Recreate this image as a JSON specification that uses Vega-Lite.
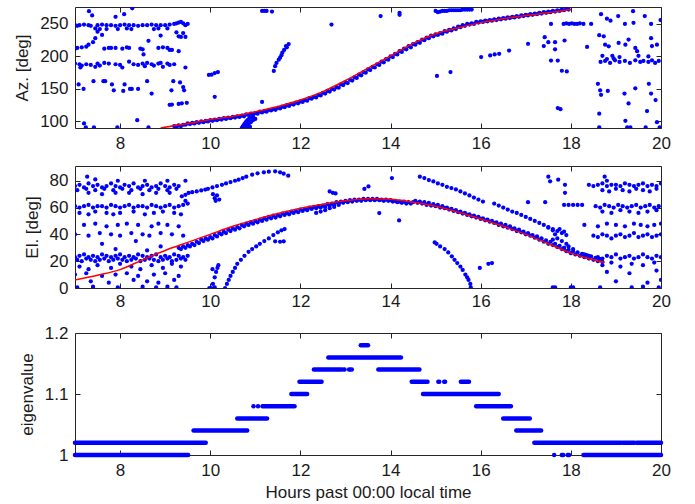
{
"$schema": "https://vega.github.io/schema/vega-lite/v6.json",
"background": "white",
"padding": {"left": 13, "top": 6, "right": 12, "bottom": 4},
"spacing": 13,
"config": {
  "font": "Liberation Sans",
  "view": {"stroke": "#262626", "strokeWidth": 1},
  "axis": {"domain": false, "grid": false, "ticks": true, "tickSize": -5, "tickColor": "#262626", "tickWidth": 1,
    "labelFont": "Liberation Sans", "labelFontSize": 17, "labelColor": "#1a1a1a", "labelPadding": 12, "labelOverlap": false, "labelFlush": false,
    "titleFont": "Liberation Sans", "titleFontSize": 17, "titleFontWeight": "normal", "titleColor": "#1a1a1a", "titlePadding": 8}
},
"datasets": {
"az": [
{"t":9.2,"v":93},{"t":9.3,"v":94},{"t":9.4,"v":95},{"t":9.5,"v":97},{"t":9.6,"v":98},{"t":9.7,"v":99},{"t":9.8,"v":100},{"t":9.9,"v":101},{"t":10,"v":102},{"t":10.1,"v":103},{"t":10.2,"v":104},{"t":10.3,"v":105},{"t":10.4,"v":106},{"t":10.5,"v":107},{"t":10.6,"v":108},{"t":10.7,"v":109},{"t":10.8,"v":111},{"t":10.9,"v":112},{"t":11,"v":113},{"t":11.1,"v":115},{"t":11.2,"v":116},{"t":11.3,"v":118},{"t":11.4,"v":119},{"t":11.5,"v":121},{"t":11.6,"v":123},{"t":11.7,"v":125},{"t":11.8,"v":127},{"t":11.9,"v":129},{"t":12,"v":131},{"t":12.1,"v":133},{"t":12.2,"v":136},{"t":12.3,"v":138},{"t":12.4,"v":141},{"t":12.5,"v":144},{"t":12.6,"v":147},{"t":12.7,"v":150},{"t":12.8,"v":153},{"t":12.9,"v":157},{"t":13,"v":160},{"t":13.1,"v":164},{"t":13.2,"v":168},{"t":13.3,"v":172},{"t":13.4,"v":176},{"t":13.5,"v":180},{"t":13.6,"v":184},{"t":13.7,"v":188},{"t":13.8,"v":192},{"t":13.9,"v":196},{"t":14,"v":200},{"t":14.1,"v":204},{"t":14.2,"v":208},{"t":14.3,"v":212},{"t":14.4,"v":216},{"t":14.5,"v":219},{"t":14.6,"v":222},{"t":14.7,"v":226},{"t":14.8,"v":229},{"t":14.9,"v":232},{"t":15,"v":234},{"t":15.1,"v":236},{"t":15.2,"v":239},{"t":15.3,"v":241},{"t":15.4,"v":243},{"t":15.5,"v":246},{"t":15.6,"v":248},{"t":15.7,"v":250},{"t":15.8,"v":251},{"t":15.9,"v":253},{"t":16,"v":254},{"t":16.1,"v":255},{"t":16.2,"v":256},{"t":16.3,"v":257},{"t":16.4,"v":258},{"t":16.5,"v":259},{"t":16.6,"v":260},{"t":16.7,"v":261},{"t":16.8,"v":262},{"t":16.9,"v":263},{"t":17,"v":264},{"t":17.1,"v":265},{"t":17.2,"v":266},{"t":17.3,"v":267},{"t":17.4,"v":268},{"t":17.5,"v":269},{"t":17.6,"v":270},{"t":17.7,"v":271},{"t":17.8,"v":272},{"t":17.9,"v":273},
{"t":9.25,"v":92},{"t":9.35,"v":93},{"t":9.45,"v":95},{"t":9.55,"v":96},{"t":9.65,"v":97},{"t":9.75,"v":98},{"t":9.85,"v":99},{"t":9.95,"v":100},{"t":10.05,"v":101},{"t":10.15,"v":102},{"t":10.25,"v":103},{"t":10.35,"v":104},{"t":10.45,"v":105},{"t":10.55,"v":106},{"t":10.65,"v":107},{"t":10.75,"v":108},{"t":10.85,"v":110},{"t":10.95,"v":111},{"t":11.05,"v":112},{"t":11.15,"v":114},{"t":11.25,"v":115},{"t":11.35,"v":117},{"t":11.45,"v":118},{"t":11.55,"v":120},{"t":11.65,"v":122},{"t":11.75,"v":124},{"t":11.85,"v":126},{"t":11.95,"v":128},{"t":12.05,"v":130},{"t":12.15,"v":132},{"t":12.25,"v":135},{"t":12.35,"v":137},{"t":12.45,"v":140},{"t":12.55,"v":143},{"t":12.65,"v":146},{"t":12.75,"v":149},{"t":12.85,"v":152},{"t":12.95,"v":156},{"t":13.05,"v":159},{"t":13.15,"v":163},{"t":13.25,"v":167},{"t":13.35,"v":171},{"t":13.45,"v":175},{"t":13.55,"v":179},{"t":13.65,"v":183},{"t":13.75,"v":187},{"t":13.85,"v":191},{"t":13.95,"v":195},{"t":14.05,"v":199},{"t":14.15,"v":203},{"t":14.25,"v":207},{"t":14.35,"v":211},{"t":14.45,"v":214},{"t":14.55,"v":218},{"t":14.65,"v":221},{"t":14.75,"v":225},{"t":14.85,"v":228},{"t":14.95,"v":231},{"t":15.05,"v":233},{"t":15.15,"v":235},{"t":15.25,"v":238},{"t":15.35,"v":240},{"t":15.45,"v":242},{"t":15.55,"v":245},{"t":15.65,"v":247},{"t":15.75,"v":249},{"t":15.85,"v":250},{"t":15.95,"v":252},{"t":16.05,"v":253},{"t":16.15,"v":254},{"t":16.25,"v":255},{"t":16.35,"v":256},{"t":16.45,"v":257},{"t":16.55,"v":258},{"t":16.65,"v":259},{"t":16.75,"v":260},{"t":16.85,"v":261},{"t":16.95,"v":262},{"t":17.05,"v":263},{"t":17.15,"v":264},{"t":17.25,"v":265},{"t":17.35,"v":266},{"t":17.45,"v":267},{"t":17.55,"v":268},{"t":17.65,"v":269},{"t":17.75,"v":270},{"t":17.85,"v":271},{"t":17.95,"v":272},
{"t":7,"v":248},{"t":7.05,"v":247},{"t":7.1,"v":248},{"t":7.2,"v":249},{"t":7.3,"v":248},{"t":7.35,"v":247},{"t":7.5,"v":248},{"t":7.6,"v":249},{"t":7.7,"v":248},{"t":7.8,"v":248},{"t":7.9,"v":247},{"t":8,"v":248},{"t":8.1,"v":249},{"t":8.2,"v":248},{"t":8.3,"v":248},{"t":8.4,"v":247},{"t":8.5,"v":248},{"t":8.6,"v":248},{"t":8.7,"v":249},{"t":8.8,"v":248},{"t":8.9,"v":248},{"t":9,"v":248},{"t":9.1,"v":249},{"t":9.2,"v":250},{"t":9.25,"v":251},{"t":9.3,"v":252},{"t":9.35,"v":253},{"t":9.4,"v":251},{"t":9.5,"v":250},{"t":9.45,"v":248},
{"t":7.45,"v":243},{"t":7.55,"v":242},{"t":7.7,"v":242},{"t":7.95,"v":242},{"t":8.15,"v":243},{"t":8.25,"v":242},{"t":8.75,"v":242},{"t":8.85,"v":243},{"t":9.05,"v":243},
{"t":7.6,"v":233},{"t":8.9,"v":232},{"t":8.63,"v":224},{"t":9.25,"v":237},{"t":9.3,"v":231},{"t":9.35,"v":230},{"t":9.45,"v":230},{"t":9.4,"v":236},
{"t":7,"v":212},{"t":7.05,"v":213},{"t":7.15,"v":214},{"t":7.25,"v":215},{"t":7.3,"v":218},{"t":7.4,"v":222},{"t":7.45,"v":228},{"t":7.5,"v":238},{"t":7.65,"v":212},{"t":7.75,"v":213},{"t":7.8,"v":213},{"t":7.9,"v":213},{"t":8.05,"v":212},{"t":8.15,"v":214},{"t":8.2,"v":213},{"t":8.45,"v":212},{"t":8.5,"v":211},{"t":8.85,"v":213},{"t":8.95,"v":214},{"t":9.05,"v":213},{"t":9.1,"v":210},{"t":9.15,"v":210},{"t":9.3,"v":208},{"t":8.52,"v":203},
{"t":7,"v":189},{"t":7.1,"v":188},{"t":7.15,"v":186},{"t":7.25,"v":188},{"t":7.35,"v":187},{"t":7.5,"v":189},{"t":7.55,"v":186},{"t":7.65,"v":190},{"t":7.75,"v":189},{"t":7.9,"v":188},{"t":8,"v":187},{"t":8.2,"v":192},{"t":8.3,"v":188},{"t":8.4,"v":187},{"t":8.5,"v":189},{"t":8.6,"v":190},{"t":8.7,"v":188},{"t":8.75,"v":186},{"t":8.85,"v":189},{"t":8.9,"v":190},{"t":9.05,"v":189},{"t":9.1,"v":187},{"t":9.2,"v":188},{"t":9.45,"v":183},
{"t":7.12,"v":183},{"t":7.45,"v":184},{"t":8.05,"v":183},{"t":8.55,"v":185},{"t":8.95,"v":184},
{"t":7.08,"v":157},{"t":7.19,"v":150},{"t":7.41,"v":162},{"t":7.63,"v":162},{"t":7.67,"v":162},{"t":7.82,"v":157},{"t":7.86,"v":148},{"t":8.1,"v":157},{"t":8.07,"v":147},{"t":8.22,"v":150},{"t":8.26,"v":150},{"t":8.4,"v":150},{"t":8.6,"v":162},{"t":8.7,"v":143},{"t":9.14,"v":148},{"t":9.18,"v":162},{"t":9.33,"v":160},{"t":9.4,"v":153},{"t":9.42,"v":148},
{"t":9.1,"v":125.6},{"t":9.15,"v":126},{"t":9.3,"v":127},{"t":9.37,"v":128},{"t":9.48,"v":128.7},
{"t":7.2,"v":97},{"t":7.24,"v":91},{"t":7.42,"v":91},{"t":7.94,"v":91},{"t":8.38,"v":102},{"t":8.63,"v":91},
{"t":7.31,"v":269.5},{"t":7.38,"v":263},{"t":7.9,"v":261},{"t":8.09,"v":265},{"t":8.27,"v":274},
{"t":9.97,"v":171.6},{"t":10.03,"v":172},{"t":10.1,"v":174.5},{"t":10.17,"v":176},{"t":10.1,"v":138},
{"t":10.7,"v":90},{"t":10.72,"v":92},{"t":10.74,"v":94},{"t":10.76,"v":96},{"t":10.78,"v":98},{"t":10.8,"v":100},{"t":10.83,"v":102},{"t":10.86,"v":104},{"t":10.9,"v":106},{"t":10.95,"v":107},{"t":10.75,"v":91},{"t":10.8,"v":93},{"t":10.85,"v":96},{"t":10.9,"v":99},{"t":10.95,"v":102},{"t":11,"v":104},{"t":10.82,"v":90},{"t":10.88,"v":92},
{"t":11.15,"v":130},
{"t":11.15,"v":270},{"t":11.2,"v":270},{"t":11.25,"v":270},{"t":11.37,"v":269},
{"t":11.41,"v":177.7},{"t":11.44,"v":185},{"t":11.47,"v":190},{"t":11.52,"v":195},{"t":11.55,"v":198},{"t":11.58,"v":202},{"t":11.6,"v":206},{"t":11.64,"v":210},{"t":11.68,"v":216},{"t":11.7,"v":214},{"t":11.74,"v":219},
{"t":12.69,"v":249},{"t":13.78,"v":262},{"t":14.2,"v":267},{"t":14.2,"v":264},{"t":15.03,"v":170},{"t":15.33,"v":176},
{"t":15,"v":270},{"t":15.05,"v":268},{"t":15.1,"v":269},{"t":15.15,"v":270},{"t":15.2,"v":270},{"t":15.25,"v":270},{"t":15.3,"v":271},{"t":15.35,"v":271},{"t":15.4,"v":271},{"t":15.45,"v":271},{"t":15.5,"v":271},{"t":15.55,"v":271},{"t":15.6,"v":272},{"t":15.65,"v":272},{"t":15.7,"v":272},{"t":15.75,"v":272},{"t":15.8,"v":272},
{"t":16.01,"v":199},{"t":16.21,"v":201.6},{"t":16.31,"v":203},{"t":16.41,"v":204},{"t":16.63,"v":209},
{"t":17.05,"v":219.5},{"t":17.4,"v":216},{"t":17.42,"v":229.6},{"t":17.5,"v":222},{"t":17.65,"v":222},{"t":17.86,"v":224.5},{"t":17.65,"v":211},{"t":17.56,"v":193.6},{"t":17.71,"v":193.6},{"t":17.8,"v":178},{"t":17.91,"v":177},{"t":17.56,"v":250},{"t":17.84,"v":250},{"t":17.9,"v":251},{"t":17.96,"v":250},{"t":18.02,"v":251},{"t":18.08,"v":250},{"t":18.14,"v":250},{"t":18.2,"v":251},{"t":18.28,"v":250},{"t":18.45,"v":250},{"t":17.71,"v":120.6},{"t":17.77,"v":119},{"t":18.36,"v":214.6},
{"t":18.67,"v":265},{"t":18.8,"v":258},{"t":18.88,"v":255},{"t":19.05,"v":262},{"t":19.2,"v":250},{"t":19.38,"v":269.5},{"t":19.39,"v":251.7},{"t":19.64,"v":262},{"t":19.78,"v":250},{"t":19.99,"v":256},
{"t":18.63,"v":232.7},{"t":18.73,"v":231},{"t":18.76,"v":218},{"t":18.84,"v":215.6},{"t":19.06,"v":220.7},{"t":19.21,"v":218},{"t":19.28,"v":226},{"t":19.43,"v":213},{"t":19.47,"v":208},{"t":19.78,"v":228},{"t":19.8,"v":216},{"t":19.91,"v":218},
{"t":18.66,"v":191.5},{"t":18.76,"v":193},{"t":18.87,"v":190},{"t":18.98,"v":194},{"t":19.08,"v":191.5},{"t":19.2,"v":193},{"t":19.31,"v":190},{"t":19.43,"v":194},{"t":19.54,"v":191.5},{"t":19.61,"v":193},{"t":19.72,"v":191.5},{"t":19.8,"v":194},{"t":19.87,"v":190},{"t":19.95,"v":193},{"t":18.7,"v":201},{"t":18.92,"v":201},{"t":19.08,"v":199},{"t":19.5,"v":201},{"t":19.72,"v":200},{"t":18.8,"v":196},{"t":18.95,"v":197},
{"t":18.6,"v":158},{"t":18.65,"v":148},{"t":18.67,"v":141},{"t":18.82,"v":147},{"t":19.19,"v":143},{"t":19.43,"v":151},{"t":19.73,"v":158},{"t":19.78,"v":143},{"t":19.88,"v":133},
{"t":18.63,"v":112},{"t":19.28,"v":127.7},{"t":19.69,"v":116},{"t":19.21,"v":101},{"t":19.91,"v":99},
{"t":18.63,"v":91},{"t":19.25,"v":91},{"t":19.32,"v":91},{"t":19.66,"v":91},{"t":19.97,"v":91}
],
"azl": [
{"t":8.9,"v":90},{"t":9.5,"v":97},{"t":10,"v":103},{"t":10.5,"v":108},{"t":11,"v":115},{"t":11.5,"v":123},{"t":12,"v":133},{"t":12.5,"v":146},{"t":13,"v":163},{"t":13.5,"v":182},{"t":14,"v":201},{"t":14.5,"v":220},{"t":15,"v":235},{"t":15.5,"v":244},{"t":16,"v":252},{"t":16.5,"v":258},{"t":17,"v":263},{"t":17.5,"v":267},{"t":18,"v":272}
],
"el": [
{"t":9.3,"v":30},{"t":9.4,"v":31},{"t":9.5,"v":32},{"t":9.6,"v":33},{"t":9.7,"v":34.5},{"t":9.8,"v":36},{"t":9.9,"v":37},{"t":10,"v":38},{"t":10.1,"v":39.5},{"t":10.2,"v":41},{"t":10.3,"v":42},{"t":10.4,"v":43.5},{"t":10.5,"v":44.5},{"t":10.6,"v":45.5},{"t":10.7,"v":47},{"t":10.8,"v":48},{"t":10.9,"v":49},{"t":11,"v":50},{"t":11.1,"v":51},{"t":11.2,"v":52},{"t":11.3,"v":53},{"t":11.4,"v":54},{"t":11.5,"v":54.5},{"t":11.6,"v":55.5},{"t":11.7,"v":56},{"t":11.8,"v":57},{"t":11.9,"v":57.5},{"t":12,"v":58.5},{"t":12.1,"v":59},{"t":12.2,"v":60},{"t":12.3,"v":60.5},{"t":12.4,"v":61},{"t":12.5,"v":61.5},{"t":12.6,"v":62.5},{"t":12.7,"v":63},{"t":12.8,"v":64},{"t":12.9,"v":64.5},{"t":13,"v":65},{"t":13.1,"v":65.5},{"t":13.2,"v":66},{"t":13.3,"v":66},{"t":13.4,"v":66.5},{"t":13.5,"v":66.5},{"t":13.6,"v":66.5},{"t":13.7,"v":66.5},{"t":13.8,"v":66},{"t":13.9,"v":66},{"t":14,"v":65.5},{"t":14.1,"v":65},{"t":14.2,"v":64.5},{"t":14.3,"v":64.5},{"t":14.4,"v":64},{"t":14.5,"v":64},{"t":14.6,"v":63.5},{"t":14.7,"v":63},{"t":14.8,"v":62},{"t":14.9,"v":61.5},{"t":15,"v":61},{"t":15.1,"v":60},{"t":15.2,"v":59.5},{"t":15.3,"v":58.5},{"t":15.4,"v":57.5},{"t":15.5,"v":56.5},{"t":15.6,"v":55.5},{"t":15.7,"v":54.5},{"t":15.8,"v":53.5},{"t":15.9,"v":52.5},{"t":16,"v":51.5},{"t":16.1,"v":50.5},{"t":16.2,"v":49.5},{"t":16.3,"v":48.5},{"t":16.4,"v":47},{"t":16.5,"v":46},{"t":16.6,"v":45},{"t":16.7,"v":44},{"t":16.8,"v":42.5},{"t":16.9,"v":41.5},{"t":17,"v":40},{"t":17.1,"v":39},{"t":17.2,"v":37.5},{"t":17.3,"v":36},{"t":17.4,"v":34.5},{"t":17.5,"v":33},{"t":17.6,"v":32},{"t":17.7,"v":30.5},{"t":17.8,"v":29},{"t":17.9,"v":27.5},{"t":18,"v":26},{"t":18.1,"v":25},{"t":18.2,"v":24},{"t":18.3,"v":23},{"t":18.4,"v":22},{"t":18.5,"v":21},{"t":18.6,"v":20},{"t":18.7,"v":19.5},
{"t":9.35,"v":29},{"t":9.45,"v":30},{"t":9.55,"v":31},{"t":9.65,"v":32},{"t":9.75,"v":33.5},{"t":9.85,"v":35},{"t":9.95,"v":36},{"t":10.05,"v":37},{"t":10.15,"v":38.5},{"t":10.25,"v":40},{"t":10.35,"v":41},{"t":10.45,"v":42.5},{"t":10.55,"v":43.5},{"t":10.65,"v":44.5},{"t":10.75,"v":46},{"t":10.85,"v":47},{"t":10.95,"v":48},{"t":11.05,"v":49},{"t":11.15,"v":50},{"t":11.25,"v":51},{"t":11.35,"v":52},{"t":11.45,"v":52.5},{"t":11.55,"v":53.5},{"t":11.65,"v":54.5},{"t":11.75,"v":55},{"t":11.85,"v":56},{"t":11.95,"v":56.5},{"t":12.05,"v":57.5},{"t":12.15,"v":58},{"t":12.25,"v":59},{"t":12.35,"v":59.5},{"t":12.45,"v":60},{"t":12.55,"v":60.5},{"t":12.65,"v":61.5},{"t":12.75,"v":62},{"t":12.85,"v":63},{"t":12.95,"v":63.5},{"t":13.05,"v":64},{"t":13.15,"v":64.5},{"t":13.25,"v":65},{"t":13.35,"v":65},{"t":13.45,"v":65.5},{"t":13.55,"v":65.5},{"t":13.65,"v":65.5},{"t":13.75,"v":65.5},{"t":13.85,"v":65},{"t":13.95,"v":65},{"t":14.05,"v":64.5},{"t":14.15,"v":64},{"t":14.25,"v":63.5},{"t":14.35,"v":63},{"t":14.45,"v":63},{"t":14.55,"v":65},{"t":14.65,"v":64.5},{"t":14.75,"v":64},{"t":14.85,"v":63.5},{"t":14.95,"v":62.5},{"t":15.05,"v":62},{"t":15.15,"v":61},{"t":15.25,"v":60},{"t":15.35,"v":59},{"t":15.45,"v":58},{"t":15.55,"v":57},{"t":15.65,"v":56},{"t":15.75,"v":55},{"t":15.85,"v":54},{"t":15.95,"v":53},{"t":16.05,"v":52},{"t":16.15,"v":51},{"t":16.25,"v":50},{"t":16.35,"v":49},{"t":16.45,"v":48},{"t":16.55,"v":47},{"t":16.65,"v":46},{"t":16.75,"v":44.5},{"t":16.85,"v":43.5},{"t":16.95,"v":42},{"t":17.05,"v":41},{"t":17.15,"v":39.5},{"t":17.25,"v":38.5},{"t":17.35,"v":37},{"t":17.45,"v":35.5},{"t":17.55,"v":34.5},{"t":17.65,"v":33},{"t":17.75,"v":31.5},{"t":17.85,"v":30},{"t":17.95,"v":28.5},{"t":18.05,"v":27.5},{"t":18.15,"v":26.5},{"t":18.25,"v":25.5},{"t":18.35,"v":24.5},{"t":18.45,"v":23.5},{"t":18.55,"v":22.5},{"t":18.65,"v":21.5},
{"t":7,"v":76},{"t":7.1,"v":77},{"t":7.2,"v":75},{"t":7.3,"v":78},{"t":7.4,"v":76},{"t":7.5,"v":77},{"t":7.6,"v":75},{"t":7.7,"v":76},{"t":7.8,"v":78},{"t":7.9,"v":76},{"t":8,"v":75},{"t":8.1,"v":77},{"t":8.2,"v":76},{"t":8.3,"v":78},{"t":8.4,"v":75},{"t":8.5,"v":76},{"t":8.6,"v":77},{"t":8.7,"v":75},{"t":8.8,"v":76},{"t":8.9,"v":78},{"t":9,"v":76},{"t":9.1,"v":75},{"t":9.2,"v":77},{"t":9.3,"v":76},
{"t":7.05,"v":73},{"t":7.25,"v":74},{"t":7.45,"v":73},{"t":7.65,"v":74},{"t":7.85,"v":73},{"t":8.05,"v":74},{"t":8.25,"v":73},{"t":8.45,"v":74},{"t":8.65,"v":73},{"t":8.85,"v":74},{"t":9.05,"v":73},{"t":9.25,"v":74},
{"t":7.3,"v":71},{"t":7.6,"v":70},{"t":7.9,"v":71},{"t":8.2,"v":71},{"t":8.5,"v":70},{"t":8.8,"v":71},{"t":9.1,"v":71},
{"t":7.27,"v":83},{"t":7.45,"v":81},{"t":7.95,"v":80},{"t":8.55,"v":80},{"t":9.05,"v":80},{"t":9.45,"v":80},
{"t":7,"v":61},{"t":7.1,"v":60},{"t":7.2,"v":61},{"t":7.3,"v":62},{"t":7.4,"v":60},{"t":7.5,"v":61},{"t":7.6,"v":61},{"t":7.7,"v":60},{"t":7.8,"v":62},{"t":7.9,"v":61},{"t":8,"v":60},{"t":8.1,"v":61},{"t":8.2,"v":62},{"t":8.3,"v":60},{"t":8.4,"v":61},{"t":8.5,"v":61},{"t":8.6,"v":60},{"t":8.7,"v":62},{"t":8.8,"v":61},{"t":8.9,"v":60},{"t":9,"v":61},{"t":9.1,"v":62},{"t":9.2,"v":60},{"t":9.3,"v":61},{"t":9.4,"v":62},
{"t":7.1,"v":56},{"t":7.3,"v":55},{"t":7.45,"v":57},{"t":7.7,"v":56},{"t":7.85,"v":55},{"t":8,"v":56},{"t":8.3,"v":57},{"t":8.55,"v":55},{"t":8.75,"v":56},{"t":8.95,"v":57},{"t":9.2,"v":56},{"t":9.35,"v":55},
{"t":7.2,"v":47},{"t":7.45,"v":48},{"t":7.7,"v":46},{"t":7.95,"v":47},{"t":8.15,"v":48},{"t":8.4,"v":47},{"t":8.7,"v":46},{"t":8.85,"v":48},{"t":9.05,"v":47},{"t":9.3,"v":46},
{"t":7,"v":40},{"t":7.3,"v":39},{"t":7.55,"v":41},{"t":7.8,"v":40},{"t":8,"v":39},{"t":8.25,"v":41},{"t":8.5,"v":40},{"t":8.65,"v":39},{"t":8.9,"v":41},{"t":9.15,"v":40},{"t":9.4,"v":39},
{"t":7.6,"v":33},{"t":8.35,"v":35},{"t":8.9,"v":31},{"t":7.9,"v":29},{"t":8.6,"v":28},
{"t":7,"v":23},{"t":7.1,"v":24},{"t":7.2,"v":25},{"t":7.3,"v":23},{"t":7.4,"v":24},{"t":7.5,"v":23},{"t":7.6,"v":25},{"t":7.7,"v":24},{"t":7.8,"v":23},{"t":7.9,"v":24},{"t":8,"v":25},{"t":8.1,"v":23},{"t":8.2,"v":24},{"t":8.3,"v":23},{"t":8.4,"v":25},{"t":8.5,"v":24},{"t":8.6,"v":23},{"t":8.7,"v":24},{"t":8.8,"v":25},{"t":8.9,"v":23},{"t":9,"v":24},{"t":9.1,"v":23},{"t":9.2,"v":25},{"t":9.3,"v":24},{"t":9.4,"v":23},{"t":9.5,"v":24},
{"t":7.05,"v":21},{"t":7.15,"v":20},{"t":7.25,"v":22},{"t":7.35,"v":21},{"t":7.45,"v":20},{"t":7.55,"v":21},{"t":7.65,"v":22},{"t":7.75,"v":20},{"t":7.85,"v":21},{"t":7.95,"v":22},{"t":8.05,"v":21},{"t":8.15,"v":20},{"t":8.25,"v":21},{"t":8.35,"v":22},{"t":8.45,"v":20},{"t":8.55,"v":21},{"t":8.65,"v":22},{"t":8.75,"v":21},{"t":8.85,"v":20},{"t":8.95,"v":21},{"t":9.05,"v":22},{"t":9.15,"v":20},{"t":9.25,"v":21},{"t":9.35,"v":22},{"t":9.45,"v":21},
{"t":7.1,"v":16},{"t":7.3,"v":14},{"t":7.5,"v":17},{"t":7.8,"v":15},{"t":8,"v":18},{"t":8.25,"v":16},{"t":8.45,"v":14},{"t":8.7,"v":17},{"t":8.95,"v":15},{"t":9.15,"v":18},{"t":9.35,"v":16},
{"t":7,"v":10},{"t":7.25,"v":11},{"t":7.6,"v":9},{"t":7.9,"v":10},{"t":8.15,"v":11},{"t":8.4,"v":9},{"t":8.75,"v":10},{"t":9,"v":11},{"t":9.3,"v":9},
{"t":7.35,"v":5},{"t":7.75,"v":4},{"t":8.3,"v":6},{"t":8.6,"v":5},{"t":8.85,"v":4},{"t":9.2,"v":6},
{"t":7.05,"v":0.5},{"t":7.4,"v":1},{"t":7.95,"v":0.5},{"t":8.5,"v":1},{"t":8.8,"v":0.5},{"t":9.05,"v":1},{"t":9.25,"v":0.5},
{"t":9.37,"v":68.4},{"t":9.45,"v":69.5},{"t":9.52,"v":70.9},{"t":9.6,"v":71.5},{"t":9.7,"v":72},{"t":9.8,"v":72.8},{"t":9.89,"v":73.4},{"t":9.95,"v":74},{"t":10.05,"v":75},{"t":10.15,"v":76},{"t":10.26,"v":77},{"t":10.35,"v":78},{"t":10.45,"v":79},{"t":10.55,"v":80},{"t":10.63,"v":80.8},{"t":10.72,"v":82},{"t":10.8,"v":83},{"t":10.93,"v":84.5},{"t":11.05,"v":85.5},{"t":11.19,"v":86.3},{"t":11.3,"v":86.8},{"t":11.44,"v":87},{"t":11.55,"v":86.3},{"t":11.63,"v":85.3},{"t":11.73,"v":83.8},
{"t":10.06,"v":70},{"t":10.1,"v":67},{"t":10.15,"v":69},{"t":10.2,"v":66},{"t":10.12,"v":65},{"t":9.45,"v":65},{"t":9.5,"v":63},
{"t":9.98,"v":0},{"t":10.02,"v":0},{"t":10.06,"v":3},{"t":10.1,"v":8},{"t":10.13,"v":12},{"t":10.16,"v":15},{"t":10.18,"v":17},{"t":10.1,"v":0.5},{"t":10.05,"v":14},
{"t":10.33,"v":0},{"t":10.37,"v":3},{"t":10.41,"v":6},{"t":10.45,"v":9},{"t":10.5,"v":12},{"t":10.55,"v":15},{"t":10.6,"v":18},{"t":10.68,"v":21},{"t":10.76,"v":24},{"t":10.85,"v":27},{"t":10.93,"v":29},{"t":11.02,"v":31},{"t":11.1,"v":33},{"t":11.2,"v":35},{"t":11.3,"v":37},{"t":11.4,"v":39.5},{"t":11.5,"v":41.5},{"t":11.58,"v":43},{"t":11.65,"v":44},{"t":11.44,"v":34.8},{"t":11.63,"v":34.8},{"t":11.55,"v":34.5},
{"t":12.35,"v":56},{"t":12.45,"v":57},{"t":12.55,"v":58},{"t":12.65,"v":59.5},{"t":12.75,"v":60.5},{"t":12.85,"v":62},
{"t":12.65,"v":72},{"t":12.72,"v":71},{"t":12.78,"v":70.5},{"t":13.42,"v":73.9},{"t":13.51,"v":75.8},{"t":13.75,"v":55.9},{"t":14.19,"v":50.4},{"t":14.03,"v":82},
{"t":14.65,"v":83},{"t":14.75,"v":82},{"t":14.85,"v":80.5},{"t":14.95,"v":79.5},{"t":15.05,"v":78},{"t":15.15,"v":77},{"t":15.25,"v":75.5},{"t":15.35,"v":74.5},{"t":15.45,"v":73.5},{"t":15.55,"v":72},{"t":15.65,"v":70.5},{"t":15.75,"v":69},{"t":15.85,"v":67.5},{"t":15.95,"v":66},{"t":16.05,"v":64.5},
{"t":16.3,"v":63},{"t":16.4,"v":61.5},{"t":16.5,"v":60},{"t":16.6,"v":58.5},{"t":16.7,"v":57},{"t":16.8,"v":56},{"t":16.9,"v":54.5},{"t":17,"v":53},{"t":17.1,"v":51.5},{"t":17.2,"v":50},{"t":17.3,"v":48.5},{"t":17.4,"v":47},{"t":17.5,"v":45.5},{"t":17.6,"v":44},{"t":17.7,"v":42.5},{"t":17.8,"v":41},{"t":17.9,"v":39.5},
{"t":17.05,"v":64},{"t":17.43,"v":64},
{"t":17.5,"v":45},{"t":17.6,"v":43},{"t":17.65,"v":40},{"t":17.7,"v":37},{"t":17.75,"v":44},{"t":17.8,"v":35},{"t":17.85,"v":42},{"t":17.9,"v":33},{"t":17.85,"v":30},{"t":17.6,"v":36},{"t":17.95,"v":31},{"t":18.05,"v":29},
{"t":14.98,"v":34},{"t":15.02,"v":33},{"t":15.1,"v":31},{"t":15.2,"v":29},{"t":15.28,"v":26.5},{"t":15.36,"v":23.6},{"t":15.42,"v":21},{"t":15.48,"v":18.6},{"t":15.55,"v":16},{"t":15.6,"v":13.5},{"t":15.66,"v":10},{"t":15.7,"v":8},{"t":15.73,"v":6},{"t":15.77,"v":3},{"t":15.78,"v":0.5},
{"t":15.98,"v":15},{"t":16.17,"v":18},{"t":16.25,"v":18.6},{"t":17.5,"v":83},{"t":17.54,"v":79.6},{"t":17.72,"v":80.8},{"t":17.87,"v":77},{"t":17.87,"v":71},
{"t":18.4,"v":77},{"t":18.5,"v":76},{"t":18.6,"v":77},{"t":18.7,"v":78},{"t":18.8,"v":76},{"t":18.9,"v":77},{"t":19,"v":77},{"t":19.1,"v":76},{"t":19.2,"v":78},{"t":19.3,"v":77},{"t":19.4,"v":76},{"t":19.5,"v":77},{"t":19.6,"v":78},{"t":19.7,"v":76},{"t":19.8,"v":77},{"t":19.9,"v":76},{"t":20,"v":78},
{"t":18.7,"v":73},{"t":18.85,"v":72},{"t":19,"v":74},{"t":19.15,"v":73},{"t":19.3,"v":72},{"t":19.45,"v":74},{"t":19.6,"v":73},{"t":19.75,"v":72},{"t":19.9,"v":74},
{"t":17.85,"v":62},{"t":17.95,"v":62},{"t":18.05,"v":62},{"t":18.15,"v":62},{"t":18.25,"v":62},{"t":18.55,"v":61},{"t":18.65,"v":60},{"t":18.75,"v":62},{"t":18.85,"v":61},{"t":18.95,"v":60},{"t":19.05,"v":62},{"t":19.15,"v":61},{"t":19.25,"v":60},{"t":19.35,"v":61},{"t":19.45,"v":62},{"t":19.55,"v":60},{"t":19.65,"v":61},{"t":19.75,"v":62},{"t":19.85,"v":60},{"t":19.95,"v":61},
{"t":18.7,"v":57},{"t":18.9,"v":56},{"t":19.1,"v":58},{"t":19.3,"v":57},{"t":19.5,"v":56},{"t":19.7,"v":57},{"t":19.9,"v":58},
{"t":18.3,"v":47},{"t":18.6,"v":46},{"t":18.8,"v":48},{"t":19,"v":47},{"t":19.2,"v":46},{"t":19.4,"v":48},{"t":19.55,"v":47},{"t":19.7,"v":46},{"t":19.85,"v":47},{"t":20,"v":48},
{"t":18.5,"v":39},{"t":18.6,"v":38},{"t":18.7,"v":40},{"t":18.8,"v":39},{"t":18.9,"v":37},{"t":19,"v":39},{"t":19.1,"v":40},{"t":19.2,"v":38},{"t":19.3,"v":39},{"t":19.4,"v":41},{"t":19.5,"v":38},{"t":19.6,"v":39},{"t":19.7,"v":40},{"t":19.8,"v":38},{"t":19.9,"v":39},{"t":20,"v":40},
{"t":18.3,"v":25},{"t":18.4,"v":24},{"t":18.6,"v":23},{"t":18.7,"v":22},{"t":18.8,"v":24},{"t":18.9,"v":23},{"t":19,"v":25},{"t":19.1,"v":22},{"t":19.2,"v":23},{"t":19.3,"v":24},{"t":19.4,"v":22},{"t":19.5,"v":23},{"t":19.6,"v":25},{"t":19.7,"v":23},{"t":19.8,"v":22},{"t":19.9,"v":24},{"t":20,"v":23},
{"t":18.7,"v":17},{"t":18.9,"v":19},{"t":19.1,"v":16},{"t":19.35,"v":18},{"t":19.6,"v":17},{"t":19.85,"v":19},
{"t":18.8,"v":12},{"t":19.3,"v":11},{"t":19.9,"v":13},{"t":19,"v":5},{"t":19.7,"v":4},{"t":20,"v":6},
{"t":17.6,"v":0.5},{"t":17.65,"v":0.5},{"t":18,"v":0.5},{"t":18.05,"v":0.5},{"t":18.65,"v":0.5},{"t":19.35,"v":0.5},{"t":19.6,"v":1},{"t":19.95,"v":0.5},
{"t":18.75,"v":83},{"t":18.8,"v":80}
],
"ell": [
{"t":7,"v":6},{"t":7.5,"v":9.5},{"t":8,"v":13.7},{"t":8.5,"v":21},{"t":9,"v":28},{"t":9.5,"v":34},{"t":10,"v":40},{"t":10.5,"v":46},{"t":11,"v":51},{"t":11.5,"v":55.5},{"t":12,"v":59.5},{"t":12.5,"v":62.5},{"t":13,"v":65},{"t":13.5,"v":66.6},{"t":14,"v":66.2},{"t":14.5,"v":64},{"t":15,"v":61},{"t":15.5,"v":56.5},{"t":16,"v":51.5},{"t":16.5,"v":46},{"t":17,"v":40},{"t":17.5,"v":33},{"t":18,"v":26},{"t":18.5,"v":21},{"t":18.75,"v":19}
],
"eig": [
{"t":7,"t2":9.51,"v":1},{"t":18.28,"t2":20,"v":1},{"t":17.63,"t2":17.63,"v":1},{"t":17.8,"t2":17.83,"v":1},{"t":17.93,"t2":17.96,"v":1},
{"t":7,"t2":9.9,"v":1.02},{"t":17.19,"t2":19.12,"v":1.02},{"t":19.16,"t2":19.41,"v":1.02},{"t":19.46,"t2":20,"v":1.02},
{"t":9.63,"t2":10.82,"v":1.04},{"t":16.79,"t2":17.34,"v":1.04},
{"t":10.6,"t2":11.26,"v":1.06},{"t":16.5,"t2":17.09,"v":1.06},
{"t":10.96,"t2":10.96,"v":1.08},{"t":11.06,"t2":11.06,"v":1.08},{"t":11.16,"t2":11.87,"v":1.08},{"t":15.9,"t2":16.67,"v":1.08},
{"t":11.8,"t2":12.15,"v":1.1},{"t":14.72,"t2":16.4,"v":1.1},
{"t":11.98,"t2":12.47,"v":1.12},{"t":14.47,"t2":14.82,"v":1.12},{"t":15.06,"t2":15.08,"v":1.12},{"t":15.19,"t2":15.21,"v":1.12},{"t":15.56,"t2":15.74,"v":1.12},
{"t":12.3,"t2":12.91,"v":1.14},{"t":12.96,"t2":12.98,"v":1.14},{"t":13.08,"t2":13.14,"v":1.14},{"t":13.73,"t2":14.64,"v":1.14},
{"t":12.62,"t2":14.23,"v":1.16},
{"t":13.34,"t2":13.5,"v":1.18}
]
},
"vconcat": [
{
 "width": 586, "height": 121,
 "layer": [
  {"data": {"name": "az"}, "mark": {"type": "circle", "size": 18, "color": "#0000ff", "opacity": 1, "clip": true},
   "encoding": {
    "x": {"field": "t", "type": "quantitative", "scale": {"domain": [7, 20], "nice": false, "zero": false}, "axis": {"values": [8,10,12,14,16,18,20], "title": null}},
    "y": {"field": "v", "type": "quantitative", "scale": {"domain": [90, 276], "nice": false, "zero": false}, "axis": {"values": [100,150,200,250], "title": "Az. [deg]"}}}},
  {"data": {"name": "azl"}, "mark": {"type": "line", "color": "#ff0000", "strokeWidth": 1.5, "interpolate": "monotone", "clip": true},
   "encoding": {
    "x": {"field": "t", "type": "quantitative", "scale": {"domain": [7, 20], "nice": false, "zero": false}, "axis": {"orient": "top", "values": [8,10,12,14,16,18,20], "labels": false, "title": null}},
    "y": {"field": "v", "type": "quantitative", "scale": {"domain": [90, 276], "nice": false, "zero": false}, "axis": {"orient": "right", "values": [100,150,200,250], "labels": false, "title": null}}}}
 ],
 "resolve": {"axis": {"x": "independent", "y": "independent"}}
},
{
 "width": 586, "height": 122,
 "layer": [
  {"data": {"name": "el"}, "mark": {"type": "circle", "size": 18, "color": "#0000ff", "opacity": 1, "clip": true},
   "encoding": {
    "x": {"field": "t", "type": "quantitative", "scale": {"domain": [7, 20], "nice": false, "zero": false}, "axis": {"values": [8,10,12,14,16,18,20], "title": null, "labelPadding": 10}},
    "y": {"field": "v", "type": "quantitative", "scale": {"domain": [0, 91], "nice": false, "zero": false}, "axis": {"values": [0,20,40,60,80], "title": "El. [deg]"}}}},
  {"data": {"name": "ell"}, "mark": {"type": "line", "color": "#ff0000", "strokeWidth": 1.5, "interpolate": "monotone", "clip": true},
   "encoding": {
    "x": {"field": "t", "type": "quantitative", "scale": {"domain": [7, 20], "nice": false, "zero": false}, "axis": {"orient": "top", "values": [8,10,12,14,16,18,20], "labels": false, "title": null}},
    "y": {"field": "v", "type": "quantitative", "scale": {"domain": [0, 91], "nice": false, "zero": false}, "axis": {"orient": "right", "values": [0,20,40,60,80], "labels": false, "title": null}}}}
 ],
 "resolve": {"axis": {"x": "independent", "y": "independent"}}
},
{
 "width": 586, "height": 122,
 "layer": [
  {"data": {"name": "eig"}, "mark": {"type": "rule", "color": "#0000ff", "strokeWidth": 4.5, "strokeCap": "round"},
   "encoding": {
    "x": {"field": "t", "type": "quantitative", "scale": {"domain": [7, 20], "nice": false, "zero": false}, "axis": {"values": [8,10,12,14,16,18,20], "title": "Hours past 00:00 local time", "titlePadding": 6}},
    "x2": {"field": "t2"},
    "y": {"field": "v", "type": "quantitative", "scale": {"domain": [1, 1.2], "nice": false, "zero": false}, "axis": {"values": [1, 1.1, 1.2], "format": "~g", "title": "eigenvalue"}}}},
  {"data": {"name": "eig"}, "mark": {"type": "point", "opacity": 0},
   "encoding": {
    "x": {"field": "t", "type": "quantitative", "scale": {"domain": [7, 20], "nice": false, "zero": false}, "axis": {"orient": "top", "values": [8,10,12,14,16,18,20], "labels": false, "title": null}},
    "y": {"field": "v", "type": "quantitative", "scale": {"domain": [1, 1.2], "nice": false, "zero": false}, "axis": {"orient": "right", "values": [1, 1.1, 1.2], "labels": false, "title": null}}}}
 ],
 "resolve": {"axis": {"x": "independent", "y": "independent"}}
}
]
}
